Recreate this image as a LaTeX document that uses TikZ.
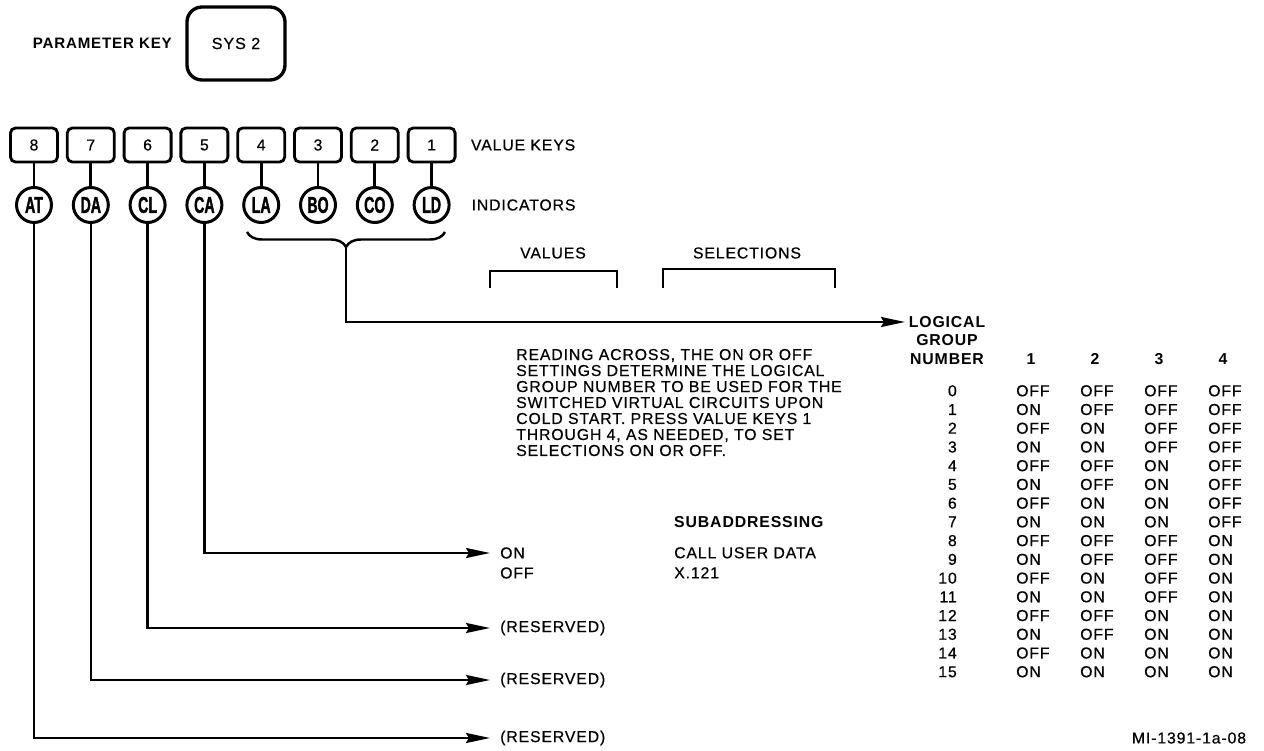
\documentclass[tikz,border=0pt]{standalone}
\usepackage{fontspec}
\setmainfont{Liberation Sans}[LetterSpace=5.5,UprightFeatures={FakeBold=0.5}]
\newfontfamily\indfont{Liberation Sans}[FakeStretch=0.62,BoldFeatures={FakeBold=1.5}]
\usetikzlibrary{arrows.meta,positioning,decorations.pathreplacing}

\tikzset{
  keybox/.style={draw,line width=1.6pt,rounded corners=0.1cm,minimum width=0.94cm,minimum height=0.68cm,inner sep=0pt},
  indic/.style={draw,circle,line width=1.7pt,minimum size=0.7cm,inner sep=0pt,font=\indfont\bfseries\fontsize{13}{13}\selectfont},
  arr/.style={line width=1.4pt,-{Stealth[length=0.48cm,width=0.2cm,inset=0.06cm]}},
  cell/.style={inner sep=0pt,anchor=base west},
  tgt/.style={anchor=west,inner xsep=0.18cm,inner ysep=0pt},
}

\begin{document}
\fontsize{9}{9.1}\selectfont
\begin{tikzpicture}[line width=1.4pt]
\useasboundingbox (0,0) rectangle (25.28,-15.02);

% parameter key
\node[draw,line width=1.9pt,rounded corners=0.3cm,minimum width=1.96cm,minimum height=1.46cm,font=\fontsize{9.2}{10}\selectfont] (sys) at (4.72,-0.87) {SYS 2};
\node[left=0.14cm of sys,font=\bfseries\fontsize{8.6}{10}\selectfont] (parkey) {PARAMETER KEY};

% value keys and indicators
\foreach \n/\lab [count=\k from 0] in {8/AT,7/DA,6/CL,5/CA,4/LA,3/BO,2/CO,1/LD}{
  \node[keybox] (key\n) at ({0.68+1.136*\k},-2.9) {\n};
  \node[indic] (ind\n) at ({0.68+1.136*\k},-4.1) {\lab};
  \draw[line width=1.5pt] (key\n) -- (ind\n);
}
\node[right=0.16cm of key1] (vklbl) {VALUE KEYS};
\node[right=0.29cm of ind1] (indlbl) {INDICATORS};

% keys 1-4 -> logical group
\draw[decorate,decoration={brace,mirror,amplitude=0.3cm}] (4.94,-4.64) -- (8.9,-4.64);
\coordinate (bracetip) at (6.92,-4.94);
\coordinate (lgnin) at (18.1,-6.44);
\draw[arr] (bracetip) |- (lgnin);

\node (vals) at (11.06,-5.06) {VALUES};
\draw[line width=1.2pt] (9.8,-5.76) |- (12.34,-5.42) -- (12.34,-5.76);
\node (sels) at (14.94,-5.06) {SELECTIONS};
\draw[line width=1.2pt] (13.26,-5.76) |- (16.7,-5.38) -- (16.7,-5.76);

\node[anchor=north west,inner sep=0pt,align=left] (reading) at (10.3,-6.955)
  {READING ACROSS, THE ON OR OFF\\SETTINGS DETERMINE THE LOGICAL\\GROUP NUMBER TO BE USED FOR THE\\SWITCHED VIRTUAL CIRCUITS UPON\\COLD START. PRESS VALUE KEYS 1\\THROUGH 4, AS NEEDED, TO SET\\SELECTIONS ON OR OFF.};

% logical group table
\node[font=\bfseries\fontsize{9}{10.5}\selectfont,align=center] (lgn) at (18.94,-6.81) {LOGICAL\\GROUP\\NUMBER};
\foreach \c/\x in {1/20.62,2/21.9,3/23.18,4/24.46}
  \node[anchor=base,inner sep=0pt,font=\bfseries] (hd\c) at (\x,-7.285) {\c};
\foreach \n/\a/\b/\c/\d in {0/OFF/OFF/OFF/OFF,1/ON/OFF/OFF/OFF,2/OFF/ON/OFF/OFF,3/ON/ON/OFF/OFF,
    4/OFF/OFF/ON/OFF,5/ON/OFF/ON/OFF,6/OFF/ON/ON/OFF,7/ON/ON/ON/OFF,
    8/OFF/OFF/OFF/ON,9/ON/OFF/OFF/ON,10/OFF/ON/OFF/ON,11/ON/ON/OFF/ON,
    12/OFF/OFF/ON/ON,13/ON/OFF/ON/ON,14/OFF/ON/ON/ON,15/ON/ON/ON/ON}{
  \node[anchor=base east,inner sep=0pt] (num\n) at (19.16,{-7.925-0.3746*\n}) {\n};
  \node[cell] (a\n) at (20.3,{-7.925-0.3746*\n}) {\a};
  \node[cell] (b\n) at (21.58,{-7.925-0.3746*\n}) {\b};
  \node[cell] (c\n) at (22.86,{-7.925-0.3746*\n}) {\c};
  \node[cell] (d\n) at (24.14,{-7.925-0.3746*\n}) {\d};
}

% keys 5-8
\node[anchor=base west,inner sep=0pt,font=\bfseries] (subaddr) at (13.46,-10.545) {SUBADDRESSING};
\node[tgt] (on) at (9.8,-11.06) {ON};
\node[tgt] (off) at (9.8,-11.46) {OFF};
\node[anchor=base west,inner sep=0pt] (cud) at (13.46,-11.165) {CALL USER DATA};
\node[anchor=base west,inner sep=0pt] (x121) at (13.46,-11.565) {X.121};
\node[tgt] (res6) at (9.8,-12.56) {(RESERVED)};
\node[tgt] (res7) at (9.8,-13.6) {(RESERVED)};
\node[tgt] (res8) at (9.8,-14.76) {(RESERVED)};
\draw[arr] (ind5) |- (on.west);
\draw[arr] (ind6) |- (res6.west);
\draw[arr] (ind7) |- (res7.west);
\draw[arr] (ind8) |- (res8.west);

\node (figid) at (23.78,-14.76) {MI-1391-1a-08};
\end{tikzpicture}
\end{document}
